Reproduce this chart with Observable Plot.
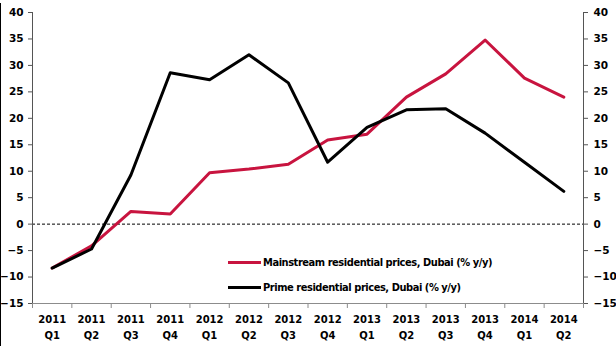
<!DOCTYPE html>
<html><head><meta charset="utf-8">
<script src="https://cdn.jsdelivr.net/npm/d3@7"></script>
<script src="https://cdn.jsdelivr.net/npm/@observablehq/plot@0.6"></script>
<style>
html,body{margin:0;padding:0;background:#fff;}
#wrap{position:relative;width:616px;height:346px;overflow:hidden;}
#frame{position:absolute;left:0;top:3px;width:1px;bottom:0;background:#000;}
.leg{position:absolute;left:228px;height:14px;display:flex;align-items:center;font-family:"DejaVu Sans Condensed","DejaVu Sans",sans-serif;font-weight:bold;font-size:11px;font-stretch:condensed;letter-spacing:-0.45px;color:#000;white-space:nowrap;}
.leg .sw{display:inline-block;width:33px;height:3px;margin-right:2px;}
</style></head><body><div id="wrap"><div id="frame"></div></div>
<script>
const years = ["2011","2011","2011","2011","2012","2012","2012","2012","2013","2013","2013","2013","2014","2014"];
const quarters = ["Q1","Q2","Q3","Q4","Q1","Q2","Q3","Q4","Q1","Q2","Q3","Q4","Q1","Q2"];
const mainstream = [-8.3,-4.1,2.4,1.9,9.7,10.4,11.3,15.9,17.0,24.0,28.4,34.8,27.6,24.0];
const prime = [-8.3,-4.7,9.3,28.6,27.3,32.0,26.7,11.7,18.3,21.6,21.8,17.2,11.7,6.2];
const yTicks = [-15,-10,-5,0,5,10,15,20,25,30,35,40];
const seriesNames = ["Mainstream residential prices, Dubai (% y/y)","Prime residential prices, Dubai (% y/y)"];
const seriesColors = ["#c8143f","#000000"];

const rows = years.map((y,i)=>({x:i+0.5, year:y, q:quarters[i], m:mainstream[i], p:prime[i]}));
const n = years.length;
const bounds = d3.range(n+1);
const yMin = yTicks[0], yMax = yTicks[yTicks.length-1];

const chart = Plot.plot({
  width:616, height:346,
  marginLeft:32, marginRight:33, marginTop:12, marginBottom:43,
  x:{domain:[0,n]},
  y:{domain:[yMin,yMax]},
  style:{fontFamily:"'DejaVu Sans', sans-serif", fontWeight:"bold", fontSize:"11px", color:"#000", background:"transparent"},
  marks:[
    Plot.ruleY([0],{stroke:"#000",strokeDasharray:"3,2",strokeWidth:1}),
    Plot.axisY({anchor:"left", ticks:yTicks, tickSize:4, tickPadding:5, stroke:"#555", label:null, fontSize:10.5}),
    Plot.axisY({anchor:"right", ticks:yTicks, tickSize:4, tickPadding:6, stroke:"#555", label:null, fontSize:10.5}),
    Plot.ruleX([0],{stroke:"#555"}),
    Plot.ruleX([n],{stroke:"#555"}),
    Plot.axisX({ticks:bounds, tickSize:5, tickFormat:()=>"", stroke:"#8c8c8c", label:null}),
    Plot.ruleY([yMin],{stroke:"#8c8c8c"}),
    Plot.axisX({ticks:rows.map(d=>d.x), tickSize:0, tickPadding:12, tickFormat:(d)=>years[Math.floor(d)], label:null, fontSize:10}),
    Plot.axisX({ticks:rows.map(d=>d.x), tickSize:0, tickPadding:28, tickFormat:(d)=>quarters[Math.floor(d)], label:null, fontSize:10}),
    Plot.line(rows,{x:"x",y:"m",stroke:seriesColors[0],strokeWidth:3}),
    Plot.line(rows,{x:"x",y:"p",stroke:seriesColors[1],strokeWidth:3})
  ]
});
const wrap = document.getElementById("wrap");
wrap.appendChild(chart);
chart.style.position="absolute"; chart.style.left="0"; chart.style.top="0";
const legTops = [255,280];
seriesNames.forEach((name,i)=>{
  const d = document.createElement("div");
  d.className="leg"; d.style.top=legTops[i]+"px";
  const sw = document.createElement("span"); sw.className="sw"; sw.style.background=seriesColors[i];
  d.appendChild(sw);
  const t = document.createElement("span"); t.textContent=name; d.appendChild(t);
  wrap.appendChild(d);
});
</script></body></html>
